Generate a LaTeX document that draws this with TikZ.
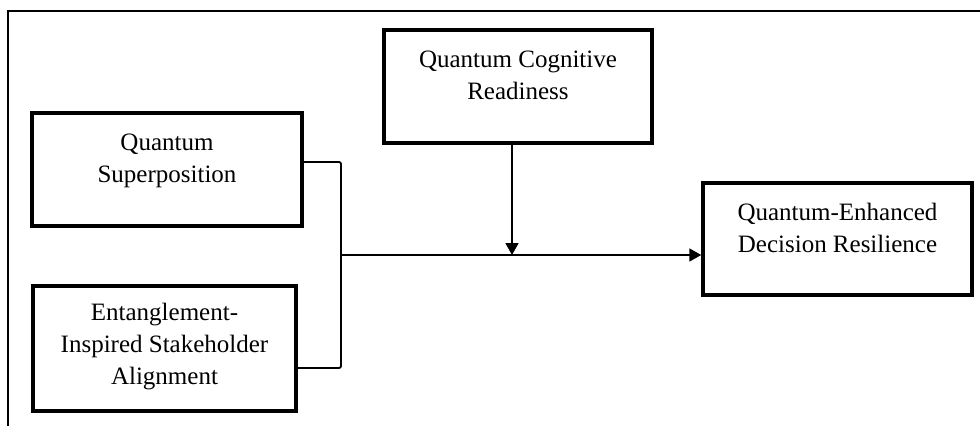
\documentclass[tikz,border=0pt]{standalone}
\usepackage{fontspec}
\setmainfont{Liberation Serif}
\usepackage{tikz}
\usetikzlibrary{arrows.meta,positioning}
\newcommand{\boxlines}[2]{\raisebox{#1}[0pt][0pt]{\begin{tabular}{@{}c@{}}#2\end{tabular}}}
\tikzset{
	x=1pt, y=-1pt,
	construct/.style={draw, line width=3.5pt, minimum width=#1, font=\fontsize{25}{32}\selectfont, inner sep=0pt},
	construct/.default=270pt,
	link/.style={line width=1.8pt, rounded corners=2pt},
	>={Triangle[length=12pt,width=13pt]}, % filled heads
	frame/.style={line width=1.4pt},
}
\begin{document}
\begin{tikzpicture}
	\useasboundingbox (0,0) rectangle (980,426);
	\draw[frame] (980,11) -- (8,11) -- (8,426);

	\node[construct=270pt, minimum height=113pt] (sup) at (167,169.5) {\boxlines{3pt}{Quantum\\Superposition}};
	\node[construct=263pt, minimum height=125pt] (ent) at (164.5,348.5) {\boxlines{-4pt}{Entanglement-\\Inspired Stakeholder\\Alignment}};
	\node[construct=268pt, minimum height=113pt] (cog) at (518,86.5) {\boxlines{3pt}{Quantum Cognitive\\Readiness}};
	\node[construct=269pt, minimum height=112pt] (res) at (837.5,239) {\boxlines{3pt}{Quantum-Enhanced\\Decision Resilience}};

	\coordinate (join) at (341,255);
	\coordinate (tip) at (512,255);

	\draw[link] ([yshift=7.5pt]sup.east) -| (join) |- ([yshift=-19.5pt]ent.east);
	\draw[link, ->] (join) -- (join -| res.west);
	\draw[link, ->] (cog.south -| tip) -- (tip);
\end{tikzpicture}
\end{document}
